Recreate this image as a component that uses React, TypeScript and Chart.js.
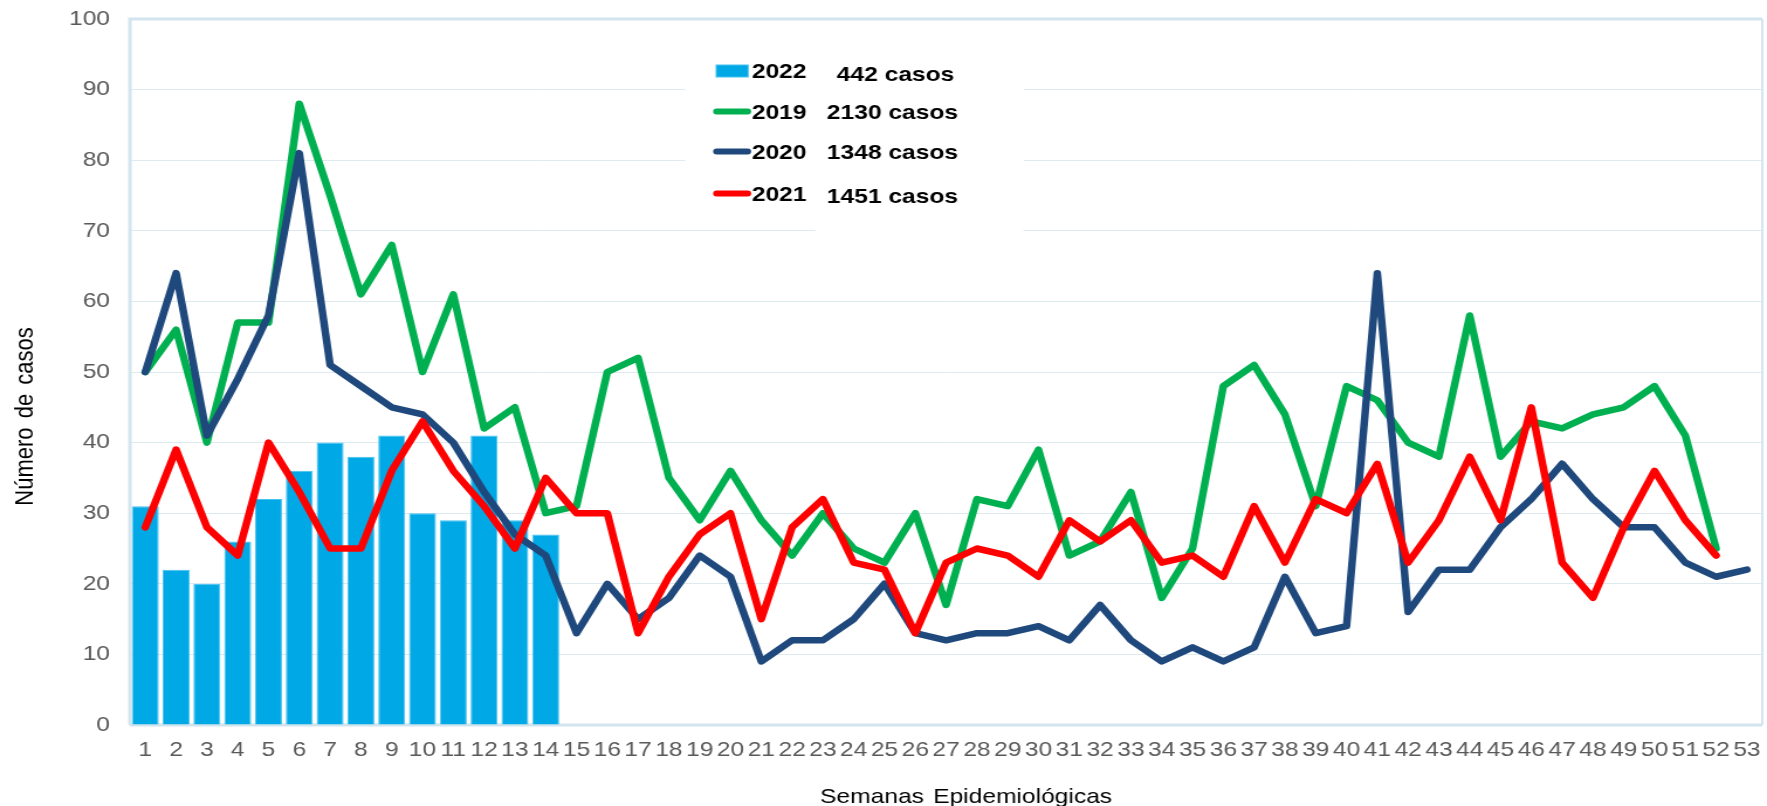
import { useEffect, useRef } from "react";
import { Chart, registerables } from "chart.js";

Chart.register(...registerables);

// ---- data ----
const weekLabels = [
  "1", "2", "3", "4", "5", "6", "7", "8", "9", "10",
  "11", "12", "13", "14", "15", "16", "17", "18", "19", "20",
  "21", "22", "23", "24", "25", "26", "27", "28", "29", "30",
  "31", "32", "33", "34", "35", "36", "37", "38", "39", "40",
  "41", "42", "43", "44", "45", "46", "47", "48", "49", "50",
  "51", "52", "53",
];

const cases2022 = [31, 22, 20, 26, 32, 36, 40, 38, 41, 30, 29, 41, 29, 27];

const cases2019 = [
  50, 56, 40, 57, 57, 88, 75, 61, 68, 50,
  61, 42, 45, 30, 31, 50, 52, 35, 29, 36,
  29, 24, 30, 25, 23, 30, 17, 32, 31, 39,
  24, 26, 33, 18, 25, 48, 51, 44, 31, 48,
  46, 40, 38, 58, 38, 43, 42, 44, 45, 48,
  41, 25,
];

const cases2020 = [
  50, 64, 41, 49, 58, 81, 51, 48, 45, 44,
  40, 33, 27, 24, 13, 20, 15, 18, 24, 21,
  9, 12, 12, 15, 20, 13, 12, 13, 13, 14,
  12, 17, 12, 9, 11, 9, 11, 21, 13, 14,
  64, 16, 22, 22, 28, 32, 37, 32, 28, 28,
  23, 21, 22,
];

const cases2021 = [
  28, 39, 28, 24, 40, 33, 25, 25, 36, 43,
  36, 31, 25, 35, 30, 30, 13, 21, 27, 30,
  15, 28, 32, 23, 22, 13, 23, 25, 24, 21,
  29, 26, 29, 23, 24, 21, 31, 23, 32, 30,
  37, 23, 29, 38, 29, 45, 23, 18, 28, 36,
  29, 24,
];

const seriesNames = ["2022", "2019", "2020", "2021"];
const legendTotals = ["442 casos", "2130 casos", "1348 casos", "1451 casos"];
const yTicks = [0, 10, 20, 30, 40, 50, 60, 70, 80, 90, 100];
const yTitle = "Número de casos";
const xTitle = "Semanas Epidemiológicas";

// ---- styles ----
const FONT = '"Liberation Sans", Arial, Helvetica, sans-serif';
const COLOR_BAR = "#00A9E6";
const COLOR_BAR_EDGE = "#45C2EF";
const COLOR_2019 = "#00B050";
const COLOR_2020 = "#1F497D";
const COLOR_2021 = "#FF0000";
const GRID = "#DDEBF1";
const FRAME = "#D2E5EE";

// The original picture is horizontally stretched; render narrower and stretch.
const OUT_W = 1767;
const OUT_H = 806;
const STRETCH = 1.17;
const IN_W = Math.round(OUT_W / STRETCH);

const framePlugin = {
  id: "frame",
  beforeDatasetsDraw(chart: any) {
    const { ctx, chartArea } = chart;
    const { left, top, right, bottom } = chartArea;
    ctx.save();
    ctx.strokeStyle = FRAME;
    ctx.lineWidth = 3;
    ctx.beginPath();
    ctx.moveTo(left, bottom);
    ctx.lineTo(left, top);
    ctx.lineTo(right, top);
    ctx.stroke();
    ctx.beginPath();
    ctx.moveTo(left, bottom);
    ctx.lineTo(right, bottom);
    ctx.stroke();
    ctx.lineWidth = 2;
    ctx.beginPath();
    ctx.moveTo(right, top);
    ctx.lineTo(right, bottom);
    ctx.stroke();
    ctx.restore();
  },
};

const overlayPlugin = {
  id: "overlay",
  afterDraw(chart: any) {
    const ctx = chart.ctx as CanvasRenderingContext2D;
    const ds = chart.data.datasets;
    ctx.save();

    // white legend boxes
    ctx.fillStyle = "#FFFFFF";
    ctx.fillRect(585.5, 30, 289, 185);
    ctx.fillRect(696.6, 30, 178, 215);

    // legend rows: 2022 (bar), 2019, 2020, 2021
    const rows = [
      { ds: 0, sym: 71, yearBase: 78.3, totBase: 80.7, totX: 715.1 },
      { ds: 1, sym: 111.5, yearBase: 118.8, totBase: 119.1, totX: 706.6 },
      { ds: 2, sym: 151.5, yearBase: 159, totBase: 159, totX: 706.6 },
      { ds: 3, sym: 193.5, yearBase: 200.8, totBase: 203.3, totX: 706.6 },
    ];
    rows.forEach((r, i) => {
      const d = ds[r.ds];
      if (i === 0) {
        ctx.fillStyle = d.backgroundColor;
        ctx.fillRect(612, r.sym - 6, 27.3, 12);
        ctx.strokeStyle = d.borderColor;
        ctx.lineWidth = 1;
        ctx.strokeRect(612, r.sym - 6, 27.3, 12);
      } else {
        ctx.strokeStyle = d.borderColor;
        ctx.lineWidth = 6;
        ctx.lineCap = "round";
        ctx.beginPath();
        ctx.moveTo(612.4, r.sym);
        ctx.lineTo(638.9, r.sym);
        ctx.stroke();
      }
      ctx.fillStyle = "#000000";
      ctx.font = `bold 21px ${FONT}`;
      ctx.textAlign = "left";
      ctx.textBaseline = "alphabetic";
      ctx.fillText(seriesNames[i], 642.5, r.yearBase);
      ctx.fillText(legendTotals[i], r.totX, r.totBase);
    });

    // axis titles
    ctx.fillStyle = "#000000";
    ctx.font = `22px ${FONT}`;
    ctx.textAlign = "center";
    ctx.textBaseline = "alphabetic";
    (ctx as any).wordSpacing = "3px";
    ctx.save();
    ctx.translate(28.2, 416.5);
    ctx.rotate(-Math.PI / 2);
    ctx.fillText(yTitle, 0, 0);
    ctx.restore();

    ctx.font = `21px ${FONT}`;
    (ctx as any).wordSpacing = "2px";
    ctx.fillText(xTitle, 825.6, 803.3);
    (ctx as any).wordSpacing = "0px";

    ctx.restore();
  },
};

export default function App() {
  const canvasRef = useRef<HTMLCanvasElement | null>(null);

  useEffect(() => {
    const canvas = canvasRef.current;
    if (!canvas) return;
    const chart = new Chart(canvas, {
      type: "bar",
      data: {
        labels: weekLabels,
        datasets: [
          {
            type: "bar",
            label: seriesNames[0],
            data: cases2022,
            backgroundColor: COLOR_BAR,
            borderColor: COLOR_BAR_EDGE,
            borderWidth: 1,
            barPercentage: 0.875,
            categoryPercentage: 1,
            order: 3,
          },
          {
            type: "line",
            label: seriesNames[1],
            data: cases2019,
            borderColor: COLOR_2019,
            backgroundColor: COLOR_2019,
            borderWidth: 6.5,
            pointRadius: 0,
            pointHoverRadius: 0,
            tension: 0,
            fill: false,
            borderCapStyle: "round",
            borderJoinStyle: "round",
            order: 2,
          },
          {
            type: "line",
            label: seriesNames[2],
            data: cases2020,
            borderColor: COLOR_2020,
            backgroundColor: COLOR_2020,
            borderWidth: 6.5,
            pointRadius: 0,
            pointHoverRadius: 0,
            tension: 0,
            fill: false,
            borderCapStyle: "round",
            borderJoinStyle: "round",
            order: 1,
          },
          {
            type: "line",
            label: seriesNames[3],
            data: cases2021,
            borderColor: COLOR_2021,
            backgroundColor: COLOR_2021,
            borderWidth: 6.5,
            pointRadius: 0,
            pointHoverRadius: 0,
            tension: 0,
            fill: false,
            borderCapStyle: "round",
            borderJoinStyle: "round",
            order: 0,
          },
        ] as any,
      },
      options: {
        responsive: false,
        devicePixelRatio: 1,
        animation: false,
        layout: { padding: { left: 0, top: 19, right: 4, bottom: 0 } },
        plugins: {
          legend: { display: false },
          tooltip: { enabled: false },
          title: { display: false },
        },
        scales: {
          x: {
            type: "category",
            offset: true,
            grid: { display: false, drawTicks: false },
            border: { display: false },
            ticks: {
              autoSkip: false,
              maxRotation: 0,
              minRotation: 0,
              padding: 13,
              color: "#595959",
              font: { family: FONT, size: 21 },
            },
            afterFit: (s: any) => {
              s.height = 81;
              s.paddingLeft = 0;
              s.paddingRight = 0;
            },
          },
          y: {
            min: yTicks[0],
            max: yTicks[yTicks.length - 1],
            afterBuildTicks: (s: any) => {
              s.ticks = yTicks.map((v) => ({ value: v }));
            },
            ticks: {
              padding: 17,
              color: "#595959",
              font: { family: FONT, size: 21 },
            },
            grid: { color: GRID, lineWidth: 1, drawTicks: false },
            border: { display: false },
            afterFit: (s: any) => {
              s.width = 111;
              s.paddingTop = 0;
              s.paddingBottom = 0;
            },
          },
        },
      } as any,
      plugins: [framePlugin, overlayPlugin],
    });
    return () => {
      chart.destroy();
    };
  }, []);

  return (
    <div
      style={{
        position: "fixed",
        left: 0,
        top: 0,
        width: OUT_W + "px",
        height: OUT_H + "px",
        background: "#FFFFFF",
        overflow: "hidden",
      }}
    >
      <canvas
        ref={canvasRef}
        width={IN_W}
        height={OUT_H}
        style={{ width: OUT_W + "px", height: OUT_H + "px", display: "block" }}
      />
    </div>
  );
}
